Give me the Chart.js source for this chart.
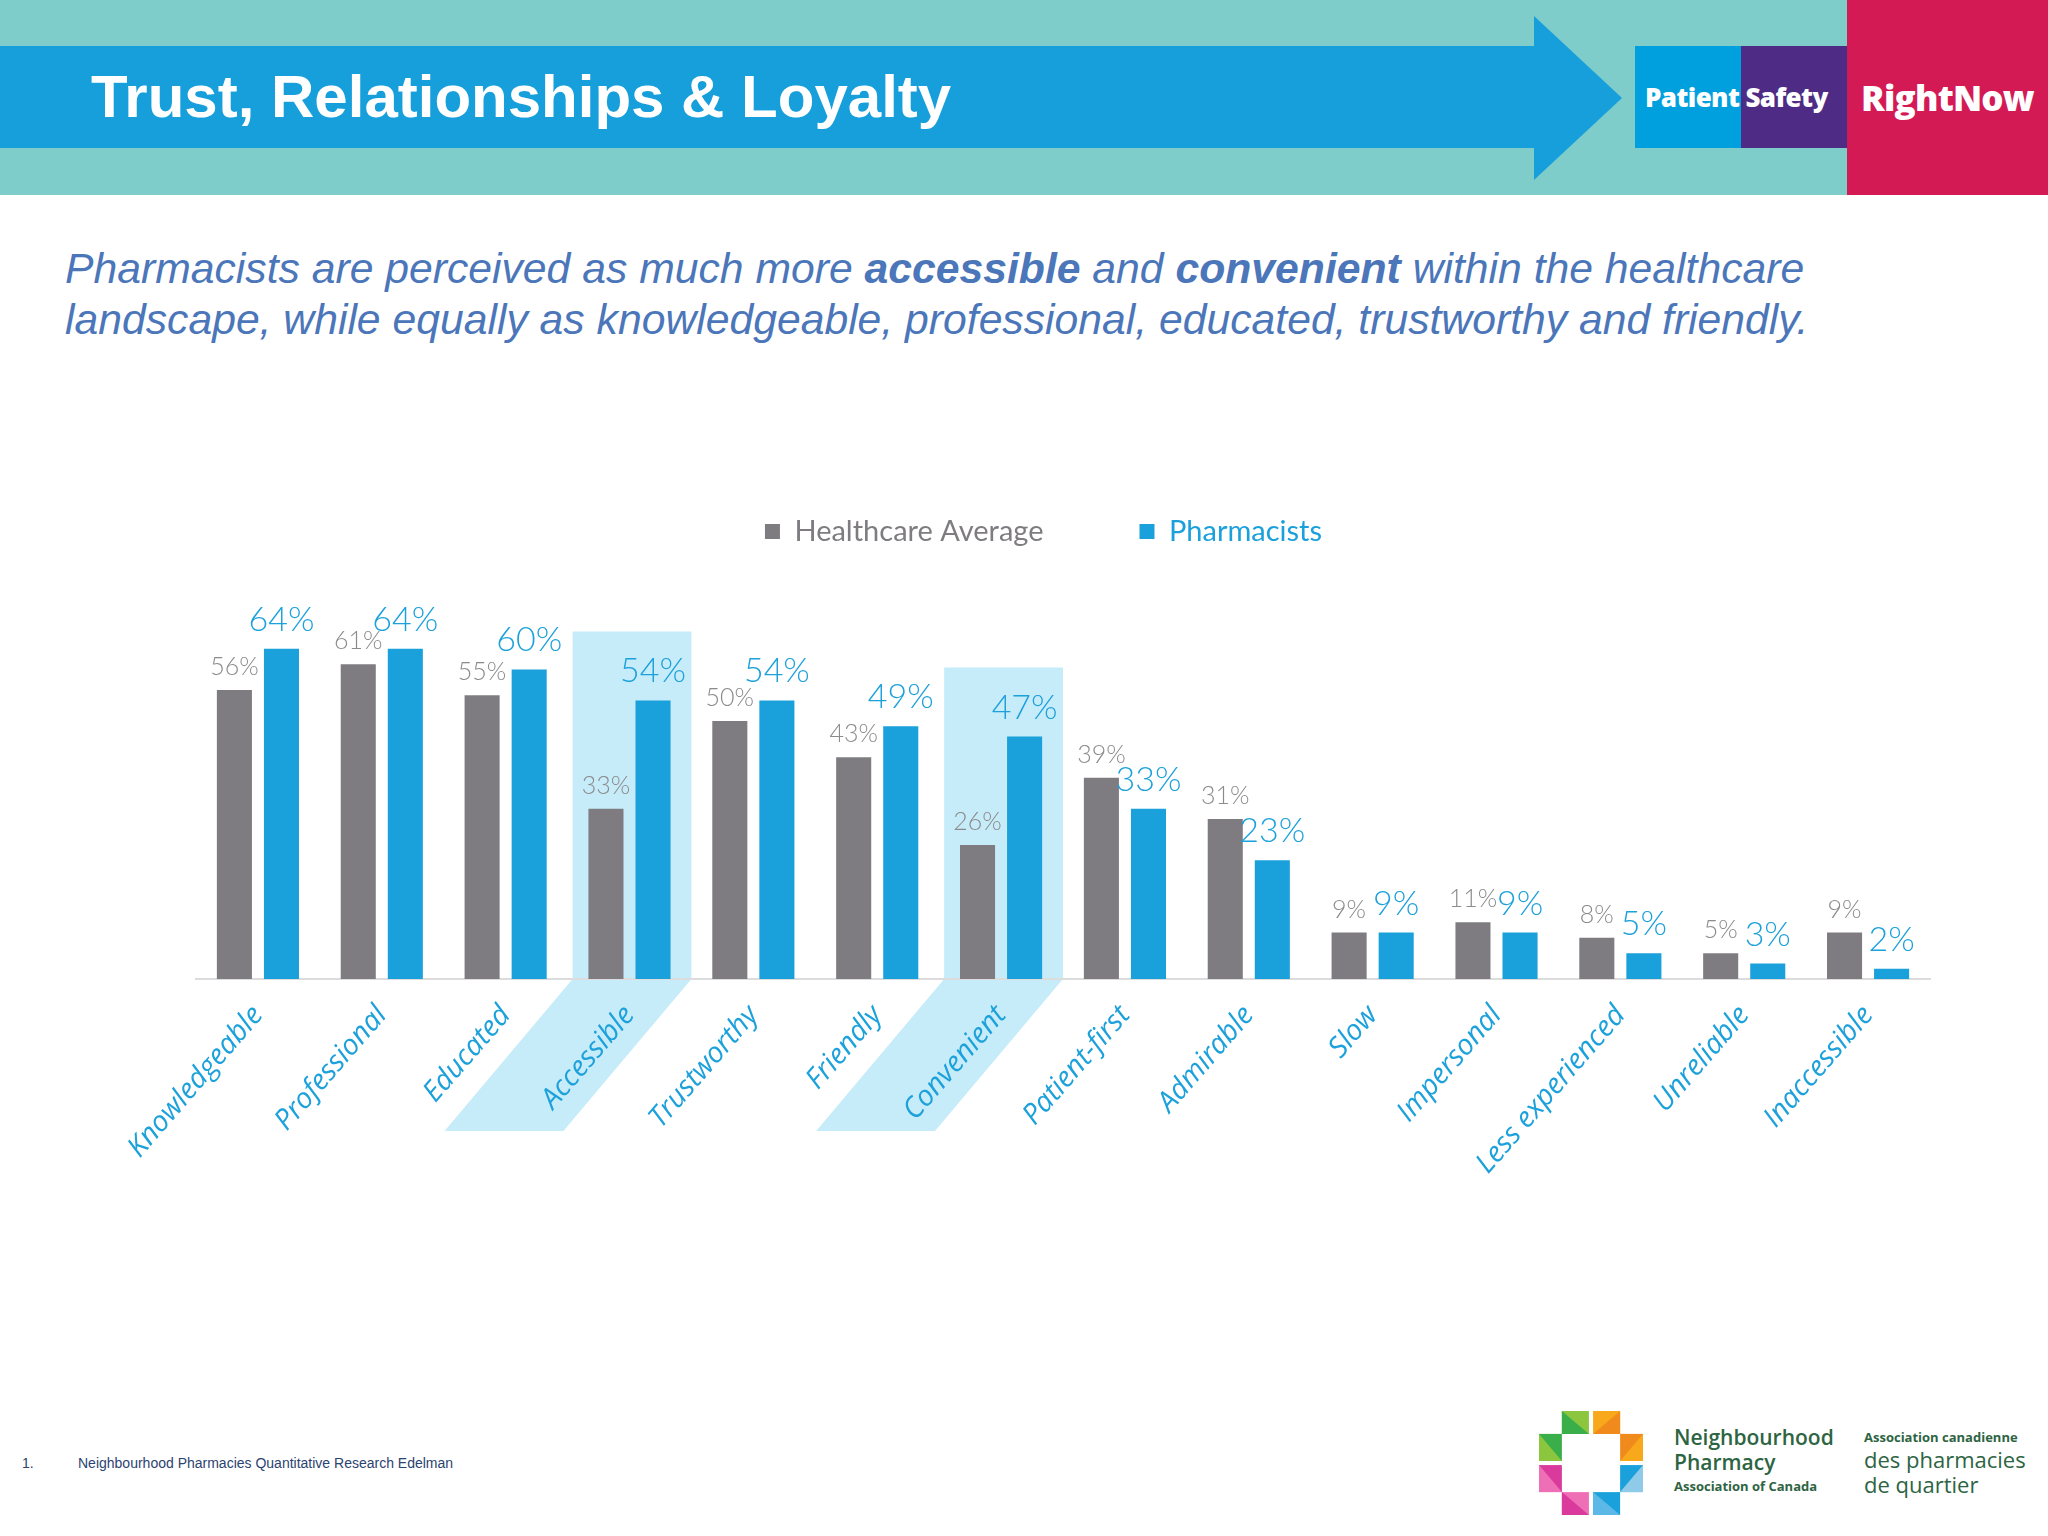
<!DOCTYPE html>
<html>
<head>
<meta charset="utf-8">
<script src="https://cdn.jsdelivr.net/npm/chart.js@4.4.1/dist/chart.umd.min.js"></script>
<style>
body { margin: 0; width: 2048px; height: 1536px; background: #fff; position: relative; overflow: hidden; font-family: "Liberation Sans", Arial, sans-serif; }
.band { position: absolute; left: 0; top: 0; width: 1847px; height: 195px; background: #7ecdca; }
.bar { position: absolute; left: 0; top: 46px; width: 1536px; height: 102px; background: #179fdb; }
.head { position: absolute; left: 1534px; top: 16px; width: 88px; height: 164px; background: #179fdb; clip-path: polygon(0 0, 100% 50%, 0 100%); }
.title { position: absolute; left: 91px; top: 46px; height: 102px; line-height: 102px; color: #fff; font-weight: bold; font-size: 60px; }
.ps1 { position: absolute; left: 1635px; top: 46px; width: 106px; height: 102px; background: #00a0df; }
.ps2 { position: absolute; left: 1741px; top: 46px; width: 106px; height: 102px; background: #4e2c85; }
.pstext { position: absolute; left: 1645px; top: 46px; width: 200px; height: 102px; line-height: 102px; color: #fff; font-family: "Open Sans", sans-serif; font-weight: 800; font-size: 26px; letter-spacing: -0.6px; white-space: nowrap; }
.red { position: absolute; left: 1847px; top: 0; width: 201px; height: 195px; background: #d41a55; color: #fff; font-family: "Open Sans", sans-serif; font-weight: 800; font-size: 35px; line-height: 195px; text-align: center; letter-spacing: -0.8px; }
.sub { position: absolute; left: 65px; top: 243px; color: #4b76b9; font-style: italic; font-size: 42.7px; line-height: 51px; white-space: nowrap; }
.foot { position: absolute; top: 1455px; font-size: 14px; color: #2c4370; }
.logo { position: absolute; color: #2d6442; font-family: "Open Sans", sans-serif; white-space: nowrap; }
#wrap { position: absolute; left: 0; top: 421px; width: 2048px; height: 778px; }
</style>
</head>
<body>
<div class="band"></div>
<div class="bar"></div>
<div class="head"></div>
<div class="title">Trust, Relationships &amp; Loyalty</div>
<div class="ps1"></div><div class="ps2"></div>
<div class="pstext">Patient Safety</div>
<div class="red">RightNow</div>

<div class="sub">Pharmacists are perceived as much more <b>accessible</b> and <b>convenient</b> within the healthcare<br>landscape, while equally as knowledgeable, professional, educated, trustworthy and friendly.</div>

<div id="wrap"><canvas id="chart"></canvas></div>

<div class="foot" style="left:22px">1.</div>
<div class="foot" style="left:78px">Neighbourhood Pharmacies Quantitative Research Edelman</div>

<svg style="position:absolute;left:1539px;top:1411px" width="104" height="104" viewBox="0 0 100 100">
  <polygon points="22,0 48,0 48,22 22,22" fill="#8cc63f"/>
  <polygon points="22,0 48,22 22,22" fill="#3aae49"/>
  <polygon points="52,0 78,0 78,22 52,22" fill="#f7a81b"/>
  <polygon points="78,0 78,22 52,22" fill="#f08a1c"/>
  <polygon points="0,22 22,22 22,48 0,48" fill="#3aae49"/>
  <polygon points="0,22 22,48 0,48" fill="#8cc63f"/>
  <polygon points="78,22 100,22 100,48 78,48" fill="#f08a1c"/>
  <polygon points="100,22 100,48 78,48" fill="#f7a81b"/>
  <polygon points="0,52 22,52 22,78 0,78" fill="#d93a9c"/>
  <polygon points="0,52 22,78 0,78" fill="#ef6fb6"/>
  <polygon points="78,52 100,52 100,78 78,78" fill="#1aa1dc"/>
  <polygon points="100,52 100,78 78,78" fill="#8fcbe9"/>
  <polygon points="22,78 48,78 48,100 22,100" fill="#ef6fb6"/>
  <polygon points="22,78 48,100 22,100" fill="#d93a9c"/>
  <polygon points="52,78 78,78 78,100 52,100" fill="#1aa1dc"/>
  <polygon points="52,78 52,100 78,100" fill="#5cb8e6"/>
</svg>
<div class="logo" style="left:1674px;top:1425px;font-size:21px;font-weight:600;line-height:25px">Neighbourhood<br>Pharmacy</div>
<div class="logo" style="left:1674px;top:1477px;font-size:13px;font-weight:700">Association of Canada</div>
<div class="logo" style="left:1864px;top:1428px;font-size:13px;font-weight:700">Association canadienne</div>
<div class="logo" style="left:1864px;top:1447px;font-size:22px;font-weight:500;line-height:25px">des pharmacies<br>de quartier</div>

<script>
"use strict";

const categories = ['Knowledgeable', 'Professional', 'Educated', 'Accessible', 'Trustworthy', 'Friendly', 'Convenient',
    'Patient-first', 'Admirable', 'Slow', 'Impersonal', 'Less experienced', 'Unreliable', 'Inaccessible'];
const healthcare_avg = [56, 61, 55, 33, 50, 43, 26, 39, 31, 9, 11, 8, 5, 9];
const pharmacists = [64, 64, 60, 54, 54, 49, 47, 33, 23, 9, 9, 5, 3, 2];
const highlighted = ['Accessible', 'Convenient'];

const GREY = '#7e7c80';
const BLUE = '#1aa0da';

// light blue boxes behind the two highlighted categories
const highlight_plugin = {
    id: 'highlight',
    beforeDraw(chart) {
        const {ctx, scales: {x, y}} = chart;
        const step = x.getPixelForValue(1) - x.getPixelForValue(0);
        const base = y.getPixelForValue(0);
        ctx.save();
        ctx.fillStyle = '#c7ecf9';
        highlighted.forEach(name => {
            const i = categories.indexOf(name);
            const cx = x.getPixelForValue(i);
            const l = cx - step / 2 + 5;
            const r = cx + step / 2;
            const top = y.getPixelForValue(pharmacists[i]) - 69;
            ctx.beginPath();
            ctx.moveTo(l, top);
            ctx.lineTo(r, top);
            ctx.lineTo(r, base);
            ctx.lineTo(r - 128, base + 152);
            ctx.lineTo(l - 128, base + 152);
            ctx.lineTo(l, base);
            ctx.closePath();
            ctx.fill();
        });
        ctx.restore();
    }
};

// percentage labels over the bars
const value_labels = {
    id: 'valueLabels',
    afterDatasetsDraw(chart) {
        const ctx = chart.ctx;
        ctx.save();
        ctx.textAlign = 'center';
        ctx.textBaseline = 'alphabetic';
        chart.data.datasets.forEach((ds, di) => {
            const meta = chart.getDatasetMeta(di);
            const big = di === 1;
            ctx.font = big ? '300 34px Lato, sans-serif' : '300 25px Lato, sans-serif';
            ctx.fillStyle = big ? '#1da1db' : '#8b8a8c';
            meta.data.forEach((bar, i) => {
                ctx.fillText(ds.data[i] + '%', bar.x, bar.y - (big ? 18 : 15));
            });
        });
        ctx.restore();
    }
};

function load_chart(canvas_element) {
    new Chart(canvas_element, {
        type: 'bar',
        data: {
            labels: categories,
            datasets: [
                { label: 'Healthcare Average', data: healthcare_avg, backgroundColor: GREY },
                { label: 'Pharmacists', data: pharmacists, backgroundColor: BLUE }
            ]
        },
        options: {
            responsive: true,
            maintainAspectRatio: false,
            animation: false,
            categoryPercentage: 0.76,
            barPercentage: 0.745,
            layout: { padding: { left: 157, right: 118, top: 0, bottom: 0 } },
            plugins: {
                tooltip: { enabled: false },
                legend: {
                    position: 'top',
                    labels: {
                        boxWidth: 15,
                        boxHeight: 15,
                        padding: 96,
                        font: { family: 'Lato', size: 29 },
                        generateLabels(chart) {
                            const items = Chart.defaults.plugins.legend.labels.generateLabels(chart);
                            items.forEach(it => { it.fontColor = it.fillStyle; it.lineWidth = 0; });
                            return items;
                        }
                    }
                }
            },
            scales: {
                x: {
                    grid: { display: false, drawTicks: false },
                    border: { color: '#dcdcdc', width: 2 },
                    ticks: {
                        autoSkip: false,
                        minRotation: 49,
                        maxRotation: 49,
                        padding: 20,
                        color: '#1da1db',
                        font: { family: 'Open Sans', style: 'italic', size: 28.5 }
                    },
                    afterFit(scale) { scale.height = 220; }
                },
                y: {
                    min: 0,
                    max: 82,
                    grid: { display: false },
                    border: { display: false },
                    ticks: { display: false },
                    // empty strip so the plot starts where the original one does
                    afterFit(scale) { scale.width = 39; }
                }
            }
        },
        plugins: [highlight_plugin, value_labels]
    });
}

load_chart(document.getElementById('chart'));
</script>
</body>
</html>
